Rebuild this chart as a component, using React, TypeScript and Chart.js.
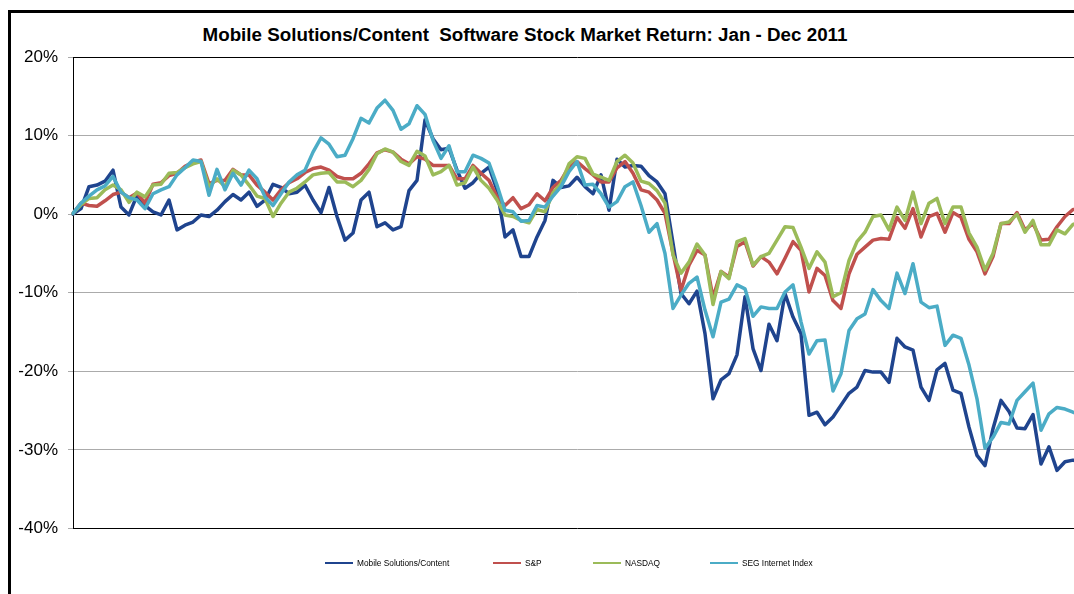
import React, { useEffect, useRef } from 'react';
import { Chart, registerables } from 'chart.js';

Chart.register(...registerables);

const TITLE = 'Mobile Solutions/Content  Software Stock Market Return: Jan - Dec 2011';

// trading-day sample index (every ~2 trading days), Jan -> Dec 2011
const categories = [
  '0','1','2','3','4','5','6','7','8','9','10','11','12','13','14','15','16','17','18','19',
  '20','21','22','23','24','25','26','27','28','29','30','31','32','33','34','35','36','37','38','39',
  '40','41','42','43','44','45','46','47','48','49','50','51','52','53','54','55','56','57','58','59',
  '60','61','62','63','64','65','66','67','68','69','70','71','72','73','74','75','76','77','78','79',
  '80','81','82','83','84','85','86','87','88','89','90','91','92','93','94','95','96','97','98','99',
  '100','101','102','103','104','105','106','107','108','109','110','111','112','113','114','115','116','117','118','119',
  '120','121','122','123','124','125','126'
];

const mobileSolutions = [
  0, 0.7, 3.5, 3.7, 4.2, 5.6, 0.9, -0.1, 2.4, 1.1,
  0.3, -0.1, 1.8, -2.0, -1.4, -1.0, -0.1, -0.3, 0.5, 1.6,
  2.5, 1.8, 2.8, 1.0, 1.8, 3.8, 3.4, 2.6, 2.8, 3.7,
  1.8, 0.2, 3.4, -0.3, -3.3, -2.4, 1.8, 2.8, -1.6, -1.1,
  -2.0, -1.6, 3.0, 4.3, 12.0, 9.6, 8.2, 8.4, 5.6, 3.3,
  4.0, 5.2, 6.0, 3.1, -2.9, -2.0, -5.4, -5.4, -2.9, -0.8,
  4.3, 3.4, 3.6, 4.7, 3.5, 2.6, 5.0, 0.5, 7.0, 6.0,
  6.2, 6.1, 4.9, 4.1, 2.6, -3.7, -10.1, -11.4, -9.8, -15.2,
  -23.5, -21.1, -20.3, -17.9, -10.5, -17.1, -19.9, -14.0, -16.1, -10.1,
  -13.1, -15.2, -25.6, -25.2, -26.8, -25.8, -24.3, -22.8, -22.0, -19.9,
  -20.1, -20.1, -21.4, -15.8, -16.9, -17.3, -22.0, -23.7, -19.8, -19.0,
  -22.4, -22.8, -27.1, -30.7, -32.0, -27.3, -23.7, -25.1, -27.2, -27.3,
  -25.5, -31.8, -29.6, -32.6, -31.5, -31.3, -31.6
];

const sp500 = [
  0.1, 1.4, 1.1, 1.0, 1.7, 2.5, 2.8, 2.1, 2.7, 1.4,
  3.8, 4.0, 4.9, 5.2, 6.1, 6.6, 6.9, 3.9, 4.3, 4.3,
  5.7, 5.0, 5.0, 3.7, 2.8, 1.8, 3.1, 4.0, 4.5, 5.3,
  5.8, 6.0, 5.6, 4.8, 4.5, 4.5, 5.2, 6.4, 7.8, 8.2,
  7.9, 7.0, 6.4, 7.3, 7.0, 6.2, 6.2, 6.2, 4.5, 4.5,
  6.2, 5.2, 4.3, 2.2, 1.1, 2.1, 0.7, 1.2, 2.6, 1.7,
  3.4, 4.3, 6.0, 6.7, 5.8, 5.0, 4.1, 4.1, 5.9, 6.7,
  5.2, 3.1, 2.8, 1.8, 0.1, -5.0, -9.7, -6.5, -4.6, -5.2,
  -10.6, -7.3, -8.0, -4.1, -3.5, -6.6, -5.4, -6.1, -7.6, -5.6,
  -3.5, -4.6, -9.9, -6.9, -7.8, -11.0, -12.0, -7.6, -5.1, -4.2,
  -3.3, -3.1, -3.2, -0.4, -1.8, 0.7, -2.9, -0.3, 0.1, -2.3,
  0.2, -0.4, -3.2, -4.8, -7.6, -5.4, -1.2, -1.2, 0.2, -2.0,
  -1.2, -3.3, -3.2, -1.6, -0.3, 0.6, 0.6
];

const nasdaq = [
  0.1, 1.2, 2.0, 2.1, 3.1, 3.7, 3.1, 1.5, 2.8, 2.2,
  3.7, 3.8, 5.2, 5.3, 5.9, 6.4, 6.7, 3.5, 4.5, 3.5,
  5.6, 5.0, 3.7, 2.3, 2.0, -0.3, 1.4, 2.8, 3.3, 4.1,
  5.0, 5.2, 5.3, 4.1, 4.1, 3.5, 4.3, 5.7, 7.7, 8.3,
  7.9, 6.7, 6.2, 8.0, 7.4, 5.0, 5.4, 6.2, 3.7, 4.0,
  6.0, 4.3, 3.3, 1.8, -0.1, -0.3, -0.8, -1.1, 0.6, 0.3,
  2.7, 3.9, 6.4, 7.3, 7.1, 5.1, 4.7, 4.3, 6.7, 7.5,
  6.5, 4.2, 3.9, 3.0, 1.4, -5.2, -7.5, -6.1, -3.8, -5.2,
  -11.5, -7.3, -8.2, -3.5, -3.1, -6.5, -5.4, -5.0, -3.3, -1.6,
  -1.7, -4.2, -6.9, -4.8, -6.1, -10.5, -10.0, -5.9, -3.5, -2.3,
  -0.3, -0.1, -2.0, 0.9, -0.8, 2.8, -1.2, 1.4, 2.0, -1.2,
  0.9, 0.9, -2.4, -4.2, -7.1, -5.0, -1.2, -1.0, 0.0, -2.3,
  -0.8, -3.9, -3.9, -2.0, -2.5, -1.3, -1.0
];

const segInternet = [
  0.1, 1.4, 2.3, 3.1, 3.6, 4.8, 2.8, 2.1, 1.8, 0.7,
  2.6, 3.1, 3.5, 5.0, 5.9, 6.9, 6.7, 2.4, 5.7, 3.1,
  5.2, 3.7, 5.6, 4.5, 2.2, 1.1, 2.6, 4.1, 5.0, 5.6,
  7.9, 9.7, 8.9, 7.3, 7.5, 9.6, 12.2, 11.6, 13.5, 14.5,
  13.2, 10.8, 11.5, 13.8, 12.7, 9.4, 7.1, 8.7, 5.4, 5.4,
  7.5, 7.1, 6.5, 3.7, 0.5, 0.3, -0.9, -0.8, 1.1, 0.9,
  2.3, 3.5, 5.4, 6.7, 3.7, 3.8, 2.6, 0.9, 1.6, 3.5,
  4.1, 1.1, -2.3, -1.2, -5.0, -12.0, -10.3, -8.8, -8.0, -12.2,
  -15.6, -11.2, -10.8, -9.0, -9.5, -13.0, -11.8, -12.0, -12.0, -9.9,
  -9.0, -13.7, -17.8, -16.1, -16.0, -22.5, -20.3, -14.8, -13.3, -12.7,
  -9.6, -11.0, -12.0, -7.5, -10.1, -6.3, -11.2, -11.9, -11.7, -16.7,
  -15.4, -15.8, -19.2, -23.5, -29.8, -28.4, -26.5, -26.7, -23.7, -22.6,
  -21.5, -27.5, -25.4, -24.6, -24.8, -25.2, -25.5
];

const yTicks = [-40, -30, -20, -10, 0, 10, 20];

const seriesNames = ['Mobile Solutions/Content', 'S&P', 'NASDAQ', 'SEG Internet Index'];
const seriesColors = ['#1F448E', '#C0504D', '#9BBB59', '#4BACC6'];
const seriesValues = [mobileSolutions, sp500, nasdaq, segInternet];

const FONT = '"Liberation Sans", Arial, Helvetica, sans-serif';
const legendLineLeft = [314, 482, 582, 699];

export default function App() {
  const canvasRef = useRef<HTMLCanvasElement | null>(null);

  useEffect(() => {
    const canvas = canvasRef.current;
    if (!canvas) return;
    const chart = new Chart(canvas, {
      type: 'line',
      data: {
        labels: categories,
        datasets: seriesNames.map((name, i) => ({
          label: name,
          data: seriesValues[i],
          borderColor: seriesColors[i],
          backgroundColor: seriesColors[i],
          borderWidth: 3.5,
          pointRadius: 0,
          tension: 0,
          fill: false,
          order: seriesNames.length - i,
          borderJoinStyle: 'round' as const,
          borderCapStyle: 'round' as const,
        })),
      },
      options: {
        animation: false,
        responsive: false,
        devicePixelRatio: 1,
        layout: { padding: { top: 44, bottom: 84.5, left: 0, right: 0 } },
        plugins: {
          legend: { display: false },
          title: { display: false },
          tooltip: { enabled: false },
        },
        scales: {
          x: { type: 'category', display: false, offset: false },
          y: {
            min: -40,
            max: 20,
            afterFit: (scale: any) => { scale.width = 62; },
            afterBuildTicks: (scale: any) => { scale.ticks = yTicks.map((v) => ({ value: v })); },
            ticks: {
              color: '#000',
              padding: 10,
              font: { family: FONT, size: 17 },
              callback: (v: any) => `${v}%`,
            },
            grid: {
              color: (ctx: any) => {
                const v = ctx.tick ? ctx.tick.value : null;
                return v === 0 || v === 20 || v === -40 ? '#000000' : '#ABABAB';
              },
              tickColor: '#ABABAB',
              tickLength: 5,
              lineWidth: 1,
            },
            border: { color: '#000', width: 1 },
          },
        },
      },
    });
    return () => chart.destroy();
  }, []);

  return (
    <div
      style={{
        position: 'fixed',
        left: 8,
        top: 10,
        right: 0,
        bottom: 0,
        overflow: 'hidden',
        borderLeft: '3px solid #000',
        borderTop: '3px solid #000',
        background: '#fff',
        boxSizing: 'border-box',
      }}
    >
      <div
        style={{
          position: 'absolute',
          left: 0,
          top: 11,
          width: 1028,
          textAlign: 'center',
          fontFamily: FONT,
          fontWeight: 'bold',
          fontSize: 18.8,
          lineHeight: '22px',
          whiteSpace: 'pre',
          color: '#000',
        }}
      >
        {TITLE}
      </div>
      <canvas
        ref={canvasRef}
        width={1070}
        height={600}
        style={{ position: 'absolute', left: 0, top: 0, width: 1070, height: 600, display: 'block' }}
      />
      {seriesNames.map((name, i) => (
        <div
          key={name}
          style={{
            position: 'absolute',
            left: legendLineLeft[i],
            top: 544,
            height: 12,
            display: 'flex',
            alignItems: 'center',
            fontFamily: FONT,
            fontSize: 8.3,
            color: '#000',
            whiteSpace: 'nowrap',
          }}
        >
          <span style={{ display: 'inline-block', width: 28, height: 2, background: seriesColors[i], marginRight: 4 }} />
          <span>{name}</span>
        </div>
      ))}
    </div>
  );
}
